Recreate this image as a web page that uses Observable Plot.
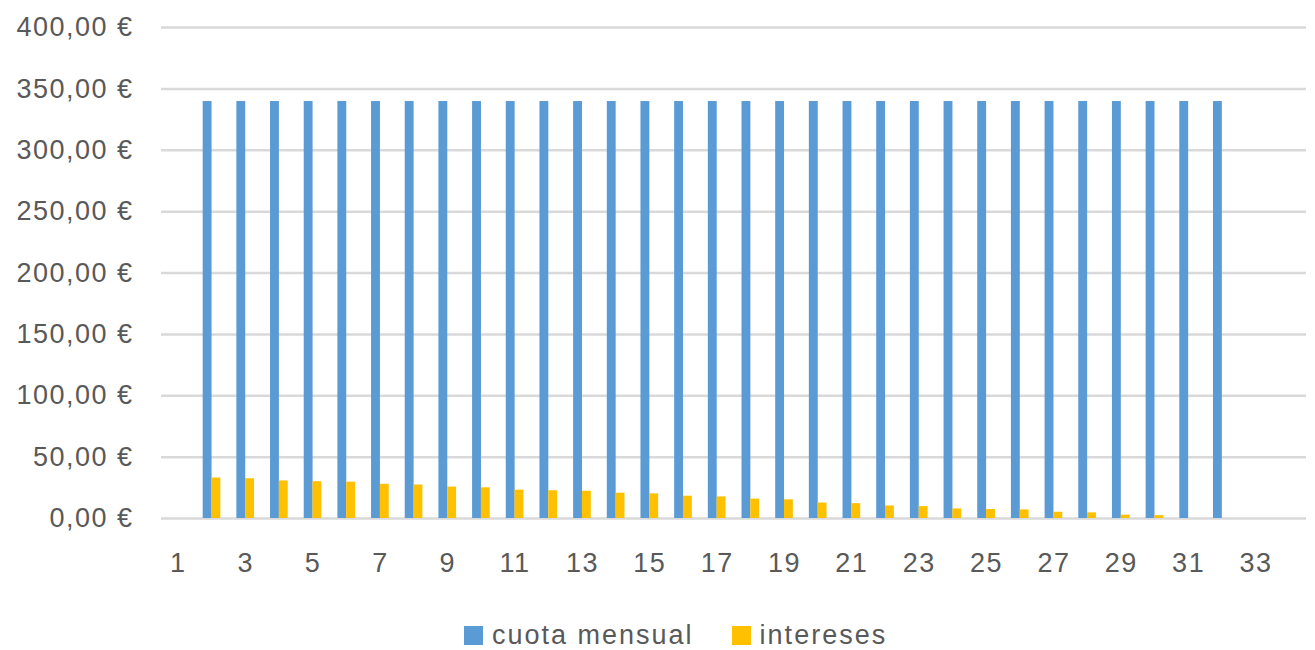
<!DOCTYPE html>
<html>
<head>
<meta charset="utf-8">
<script src="https://cdn.jsdelivr.net/npm/d3@7"></script>
<script src="https://cdn.jsdelivr.net/npm/@observablehq/plot@0.6"></script>
<style>
  body { margin: 0; background: #fff; font-family: "Liberation Sans", Arial, sans-serif; }
  #chart { position: relative; width: 1315px; height: 650px; }
  .legend { position: absolute; top: 620px; left: 464px; display: flex; align-items: center; font-size: 27px; color: #595959; letter-spacing: 2px; }
  .legend .sw { width: 19px; height: 19px; display: inline-block; margin-right: 9px; }
  .legend .item { display: flex; align-items: center; margin-right: 38px; }
</style>
</head>
<body>
<div id="chart"></div>
<script>
const meses = [1,2,3,4,5,6,7,8,9,10,11,12,13,14,15,16,17,18,19,20,21,22,23,24,25,26,27,28,29,30,31,32,33,34];
const cuotaMensual = [null,339.7,339.7,339.7,339.7,339.7,339.7,339.7,339.7,339.7,339.7,339.7,339.7,339.7,339.7,339.7,339.7,339.7,339.7,339.7,339.7,339.7,339.7,339.7,339.7,339.7,339.7,339.7,339.7,339.7,339.7,339.7,null,null];
const intereses = [null,33.0,32.4,30.6,30.0,29.6,27.9,27.3,25.6,25.0,23.1,22.6,22.2,20.6,20.1,18.2,17.6,15.8,15.2,12.6,12.1,10.2,9.7,7.8,7.3,7.0,5.1,4.6,2.7,2.3,0,0,null,null];
const xTicks = [1,3,5,7,9,11,13,15,17,19,21,23,25,27,29,31,33];
const yTicks = [0,50,100,150,200,250,300,350,400];
const series = ["cuota mensual", "intereses"];
const colores = ["#5b9bd5", "#ffc000"];

const cuotaData = meses.map((m, i) => ({mes: m, valor: cuotaMensual[i]})).filter(d => d.valor != null);
const intData = meses.map((m, i) => ({mes: m, valor: intereses[i]})).filter(d => d.valor != null);

const fmt = d => d.toFixed(2).replace(".", ",") + " €";

const chart = Plot.plot({
  width: 1315,
  height: 600,
  marginLeft: 161,
  marginRight: 9,
  marginTop: 27,
  marginBottom: 82,
  style: { fontFamily: "Liberation Sans, Arial, sans-serif", fontSize: "27px", color: "#595959", background: "#fff" },
  x: { type: "band", domain: meses, padding: 0, round: false, label: null, ticks: xTicks, tickSize: 0, tickPadding: 34 },
  y: { domain: [0, 400], ticks: yTicks, tickFormat: fmt, tickSize: 0, tickPadding: 28, label: null },
  marks: [
    Plot.ruleY(yTicks, { stroke: "#d9d9d9", strokeWidth: 2.5 }),
    Plot.barY(cuotaData, { x: "mes", y: "valor", fill: colores[0], insetLeft: 8, insetRight: 16.8 }),
    Plot.barY(intData, { x: "mes", y: "valor", fill: colores[1], insetLeft: 16.8, insetRight: 8 })
  ]
});
chart.style.position = "absolute";
chart.style.left = "0";
chart.style.top = "0";
chart.querySelectorAll("text").forEach(t => t.setAttribute("letter-spacing", "1.5"));
const root = document.getElementById("chart");
root.appendChild(chart);

const legend = document.createElement("div");
legend.className = "legend";
series.forEach((s, i) => {
  const item = document.createElement("span");
  item.className = "item";
  const sw = document.createElement("span");
  sw.className = "sw";
  sw.style.background = colores[i];
  item.appendChild(sw);
  item.appendChild(document.createTextNode(s));
  legend.appendChild(item);
});
root.appendChild(legend);
</script>
</body>
</html>
